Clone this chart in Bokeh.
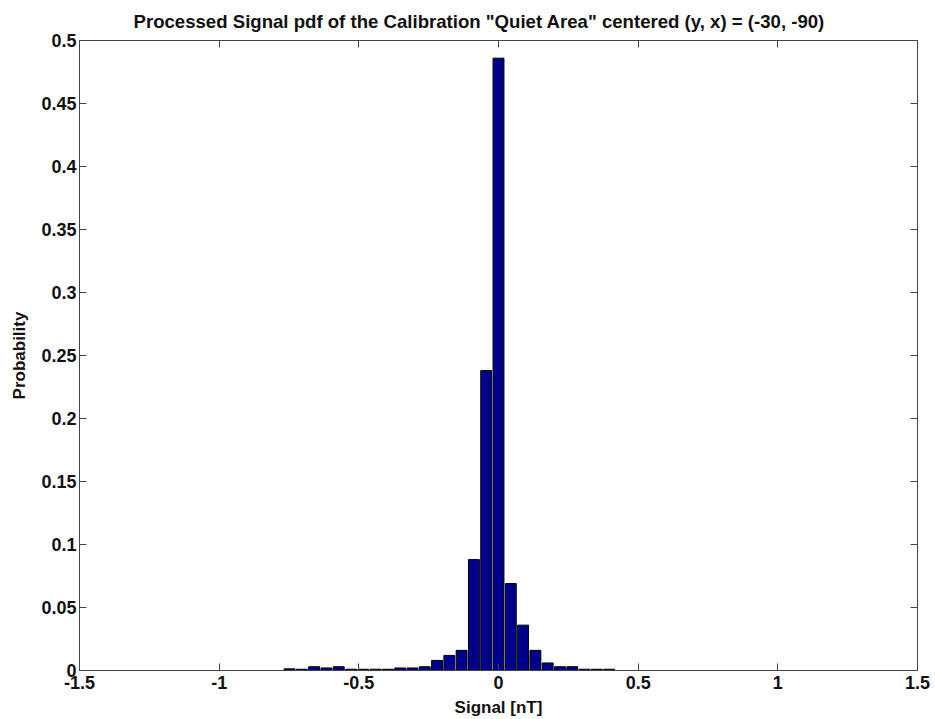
from bokeh.plotting import figure
from bokeh.models import LinearAxis, FixedTicker, CustomJSTickFormatter, Range1d
from bokeh.embed import file_html
from bokeh.resources import INLINE

# Data
bin_centers = [-0.748, -0.704, -0.660, -0.616, -0.572, -0.528, -0.484, -0.440, -0.396,
               -0.352, -0.308, -0.264, -0.220, -0.176, -0.132, -0.088, -0.044, 0.000,
               0.044, 0.088, 0.132, 0.176, 0.220, 0.264, 0.308, 0.352, 0.396]
probability = [0.0013, 0.001, 0.003, 0.002, 0.003, 0.001, 0.001, 0.001, 0.001,
               0.002, 0.002, 0.003, 0.008, 0.012, 0.016, 0.088, 0.238, 0.486,
               0.069, 0.036, 0.016, 0.006, 0.003, 0.003, 0.001, 0.001, 0.001]
x_ticks = [-1.5, -1, -0.5, 0, 0.5, 1, 1.5]
y_ticks = [0, 0.05, 0.1, 0.15, 0.2, 0.25, 0.3, 0.35, 0.4, 0.45, 0.5]
title_text = 'Processed Signal pdf of the Calibration "Quiet Area" centered (y, x) = (-30, -90)'
bar_width = 0.039

FONT = "Liberation Sans"

p = figure(width=935, height=719, x_range=Range1d(-1.5, 1.5), y_range=Range1d(0, 0.5),
           output_backend="svg", toolbar_location=None,
           min_border_left=79, min_border_right=18, min_border_top=40, min_border_bottom=49,
           x_axis_label="Signal [nT]", y_axis_label="Probability")
p.background_fill_color = "white"
p.border_fill_color = "white"
p.outline_line_color = "#444444"
p.outline_line_width = 1
p.grid.visible = False

p.title.text = title_text
p.title.align = "left"
p.title.offset = 54
p.title.vertical_align = "top"
p.title.text_font = FONT
p.title.text_font_size = "18.6px"
p.title.text_font_style = "bold"
p.title.text_color = "#111111"
p.title.standoff = 14

p.vbar(x=bin_centers, top=probability, width=bar_width, bottom=0,
       fill_color="#00008C", line_color="#000000", line_width=1)

fmt = CustomJSTickFormatter(code="return String(Math.round(tick*100)/100);")

for ax, ticks in ((p.xaxis[0], x_ticks), (p.yaxis[0], y_ticks)):
    ax.ticker = FixedTicker(ticks=ticks)
    ax.formatter = fmt
    ax.major_tick_in = 7
    ax.major_tick_out = 0
    ax.minor_tick_in = 0
    ax.minor_tick_out = 0
    ax.axis_line_color = "#444444"
    ax.major_tick_line_color = "#444444"
    ax.major_label_text_font = FONT
    ax.major_label_text_font_size = "18px"
    ax.major_label_text_font_style = "bold"
    ax.major_label_text_color = "#111111"
    ax.axis_label_text_font = FONT
    ax.axis_label_text_font_size = "17px"
    ax.axis_label_text_font_style = "bold"
    ax.axis_label_text_color = "#111111"

p.xaxis[0].major_label_standoff = 5
p.xaxis[0].axis_label_standoff = 6
p.yaxis[0].major_label_standoff = 3
p.yaxis[0].axis_label_standoff = 9

# box ticks on top and right
top_ax = LinearAxis(ticker=FixedTicker(ticks=x_ticks), major_tick_in=7, major_tick_out=0,
                    minor_tick_in=0, minor_tick_out=0, major_label_text_font_size="0px",
                    axis_line_color="#444444", major_tick_line_color="#444444")
right_ax = LinearAxis(ticker=FixedTicker(ticks=y_ticks), major_tick_in=7, major_tick_out=0,
                      minor_tick_in=0, minor_tick_out=0, major_label_text_font_size="0px",
                      axis_line_color="#444444", major_tick_line_color="#444444")
p.add_layout(top_ax, "above")
p.add_layout(right_ax, "right")

open("out.html", "w").write(file_html(p, INLINE))
